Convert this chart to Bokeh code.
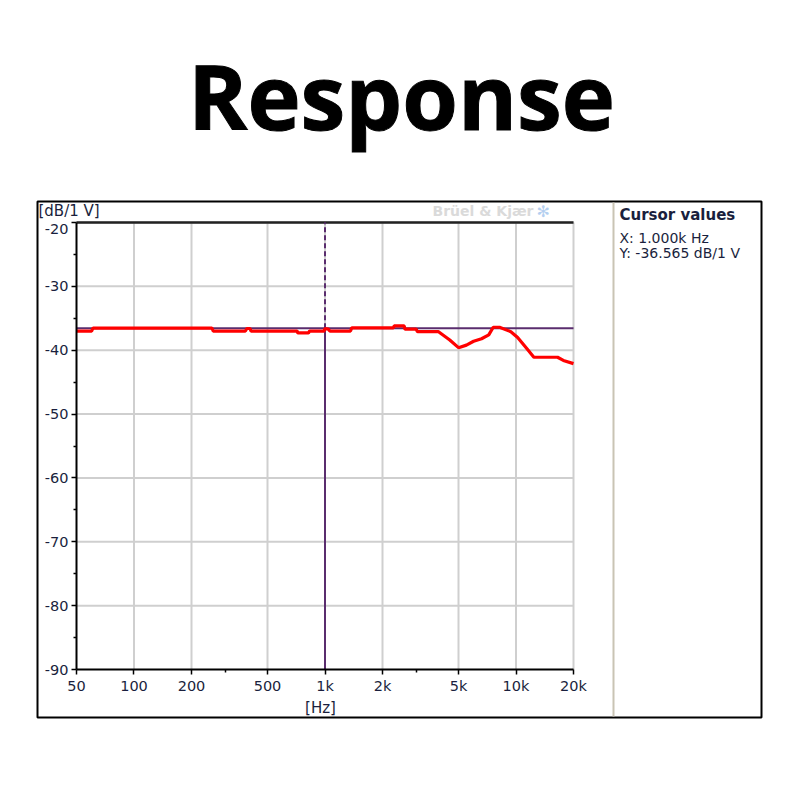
import math
from bokeh.plotting import figure
from bokeh.models import FixedTicker, Label, BoxAnnotation, Range1d
from bokeh.embed import file_html
from bokeh.resources import INLINE

# ---- data ----
freq = [50, 60, 61, 256, 260, 383, 390, 405, 410, 715, 720, 820, 830, 990, 1000, 1040,
        1060, 1360, 1380, 2280, 2300, 2600, 2620, 3000, 3050, 3930, 4500, 5000, 5500,
        6000, 6600, 7200, 7600, 8200, 9400, 10200, 11500, 12400, 16500, 17700, 20000]
level = [-37.0, -37.0, -36.55, -36.55, -37.0, -37.0, -36.6, -36.6, -37.0, -37.0, -37.3,
         -37.3, -37.0, -37.0, -36.6, -36.7, -37.0, -37.0, -36.5, -36.5, -36.2, -36.2,
         -36.7, -36.7, -37.1, -37.1, -38.4, -39.6, -39.2, -38.6, -38.2, -37.6, -36.4,
         -36.4, -37.1, -38.0, -39.9, -41.1, -41.1, -41.6, -42.1]

cursor_x = 1000
cursor_y = -36.565

x_ticks = [50, 100, 200, 500, 1000, 2000, 5000, 10000, 20000]
x_tick_labels = ["50", "100", "200", "500", "1k", "2k", "5k", "10k", "20k"]
x_minor = [300, 3000]
y_ticks = [-90, -80, -70, -60, -50, -40, -30, -20]
y_tick_labels = ["-90", "-80", "-70", "-60", "-50", "-40", "-30", "-20"]
y_minor = [-85, -75, -65, -55, -45, -35, -25]

TXT = "#1a1f3d"
PURPLE = "#5a2d6e"
FONT = "DejaVu Sans"

# ---- layout: the frame covers the whole canvas; axes sit at fixed locations ----
W, H = 800, 800
PX_L, PX_R = 76, 573      # screen x of first / last x tick
PY_T, PY_B = 222, 669     # screen y of top / bottom y tick
x0, x1 = x_ticks[0], x_ticks[-1]
yb, yt = y_ticks[0], y_ticks[-1]
dec = (PX_R - PX_L) / (math.log10(x1) - math.log10(x0))
x_start = 10 ** (math.log10(x0) - PX_L / dec)
x_end = 10 ** (math.log10(x1) + (W - PX_R) / dec)
ppd = (PY_B - PY_T) / (yt - yb)
y_end = yt + PY_T / ppd
y_start = yb - (H - PY_B) / ppd

p = figure(width=W, height=H, x_axis_type="log", output_backend="svg",
           toolbar_location=None, x_range=Range1d(x_start, x_end),
           y_range=Range1d(y_start, y_end), min_border=0)
p.outline_line_color = None
p.background_fill_color = "white"
p.border_fill_color = "white"
p.grid.visible = False

xa = p.xaxis[0]
xa.ticker = FixedTicker(ticks=x_ticks, minor_ticks=x_minor)
xa.major_label_overrides = {t: l for t, l in zip(x_ticks, x_tick_labels)}
xa.fixed_location = yb
xa.bounds = (x0, x1)
ya = p.yaxis[0]
ya.ticker = FixedTicker(ticks=y_ticks, minor_ticks=y_minor)
# the top label is drawn a little lower (below the unit text), see below
ya.major_label_overrides = {t: (l if t != yt else "") for t, l in zip(y_ticks, y_tick_labels)}
ya.fixed_location = x0
ya.bounds = (yb, yt)
for ax in (xa, ya):
    ax.axis_line_color = "black"
    ax.axis_line_width = 2
    ax.major_tick_line_color = "black"
    ax.major_tick_line_width = 1.5
    ax.minor_tick_line_color = "black"
    ax.minor_tick_line_width = 1.5
    ax.major_tick_in = 0
    ax.major_tick_out = 5
    ax.minor_tick_in = 0
    ax.minor_tick_out = 3
    ax.major_label_text_font = FONT
    ax.major_label_text_font_size = "14.5px"
    ax.major_label_text_color = TXT
xa.major_label_standoff = 3
ya.major_label_standoff = 3

# grid lines from the tick lists
GRID = "#cfcfcf"
p.segment(x0=x_ticks[1:], y0=[yb] * (len(x_ticks) - 1), x1=x_ticks[1:],
          y1=[yt] * (len(x_ticks) - 1), line_color=GRID, line_width=2)
p.segment(x0=[x0] * (len(y_ticks) - 1), y0=y_ticks[1:], x1=[x1] * (len(y_ticks) - 1),
          y1=y_ticks[1:], line_color=GRID, line_width=2)
# dark top edge of the plot area
p.segment(x0=[x0], y0=[yt], x1=[x1], y1=[yt], line_color="#222222", line_width=2.5)

# cursor
p.line([x0, x1], [cursor_y, cursor_y], line_color=PURPLE, line_width=2)
p.line([cursor_x, cursor_x], [yb, cursor_y], line_color=PURPLE, line_width=2)
p.line([cursor_x, cursor_x], [cursor_y, yt], line_color=PURPLE, line_width=2,
       line_dash="5 3")

# response curve
p.line(freq, level, line_color="#ff0000", line_width=3.2)

# top y tick label, nudged down like the original
p.add_layout(Label(x=x0, y=yt, text=y_tick_labels[-1], x_offset=-8, y_offset=-6,
                   text_align="right", text_baseline="alphabetic",
                   text_font=FONT, text_font_size="14.5px", text_color=TXT))

# ---- decorations, in screen units (origin at bottom-left of the frame) ----
def sy(y):
    return H - y

def box(l, r, t, b, **kw):
    p.add_layout(BoxAnnotation(left=l, right=r, top=sy(t), bottom=sy(b),
                               left_units="screen", right_units="screen",
                               top_units="screen", bottom_units="screen", **kw))

box(37, 761, 201, 717, fill_alpha=0, line_color="black", line_alpha=1, line_width=2)
box(612, 614, 202, 716, fill_color="#c9c4b4", fill_alpha=1, line_alpha=0)

def lab(x, y, text, size, color=TXT, style="normal", align="left", font=FONT, **kw):
    # y is the wanted baseline (from the top); Label places text ~0.39em lower
    px = float(size.replace("px", ""))
    p.add_layout(Label(x=x, y=sy(y - 0.39 * px), x_units="screen", y_units="screen",
                       text=text, text_font=font, text_font_size=size,
                       text_color=color, text_font_style=style, text_align=align,
                       text_baseline="alphabetic", **kw))

lab(401, 130, "Response", "90px", color="black", style="bold", align="center",
    font="Open Sans", text_outline_color="black")
lab(38, 216, "[dB/1 V]", "15px")
lab(320, 713, "[Hz]", "15px", align="center")
lab(432, 216, "Brüel & Kjær", "14px", color="#dadada", style="bold")
lab(536, 217, "✻", "16px", color="#b4cff0")
lab(619, 220, "Cursor values", "15px", style="bold")
lab(619, 243, "X:  1.000k Hz", "14px")
lab(619, 258, "Y:  -36.565 dB/1 V", "14px")

open("out.html", "w").write(file_html(p, INLINE))
